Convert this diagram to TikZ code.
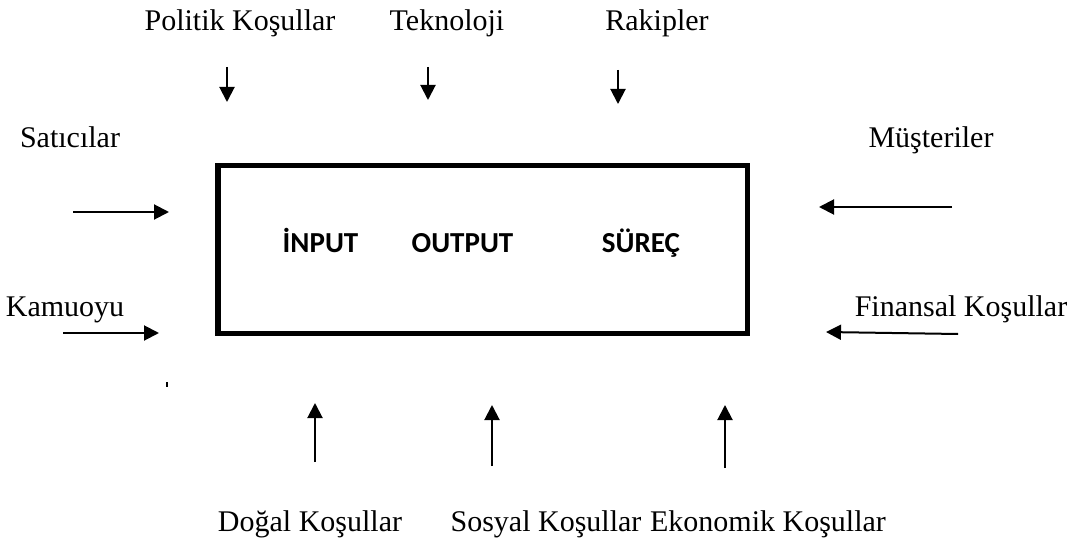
\documentclass[tikz,border=0pt]{standalone}
\usepackage{fontspec}
\setmainfont{Liberation Serif}
\newfontfamily\boxfont{Carlito}
\usetikzlibrary{arrows.meta,positioning}

\tikzset{
  envtext/.style={font=\fontsize{15}{18}\selectfont, inner sep=0pt, anchor=base},
  firmtext/.style={font=\boxfont\bfseries\fontsize{14.5}{17}\selectfont, inner sep=0pt, anchor=base},
  flow/.style={line width=1pt, -{Triangle[length=7.5pt,width=7.5pt]}}
}

\begin{document}
\begin{tikzpicture}[x=0.5pt, y=-0.5pt]
  \useasboundingbox (0,0) rectangle (1087,540);

  % the firm
  \node[draw, line width=2.75pt, inner sep=0pt,
        minimum width=264.75pt, minimum height=83.75pt] (firm) at (482.5,249.5) {};

  \node[firmtext] (input)  at (320.5,252) {İNPUT};
  \node[firmtext] (output) at (462.5,252) {OUTPUT};
  \node[firmtext] (surec)  at (641,252)   {SÜREÇ};

  % surrounding conditions
  \node[envtext] (politik)  at (240,31)  {Politik Koşullar};
  \node[envtext] (teknoloji) at (447,31) {Teknoloji};
  \node[envtext] (rakipler) at (657,31)  {Rakipler};
  \node[envtext] (saticilar) at (70,148) {Satıcılar};
  \node[envtext] (musteriler) at (931,148) {Müşteriler};
  \node[envtext] (kamuoyu)  at (65,316)  {Kamuoyu};
  \node[envtext] (finansal) at (961,316) {Finansal Koşullar};
  \node[envtext] (dogal)    at (310,531) {Doğal Koşullar};
  \node[envtext] (sosyal)   at (546,531) {Sosyal Koşullar};
  \node[envtext] (ekonomik) at (768,531) {Ekonomik Koşullar};

  % arrows towards the firm
  \foreach \n/\xa/\ya/\xb/\yb in {pol/227/67/227/102, tek/428/67/428/100,
      rak/618/70/618/104, sat/73/212/169/212, kam/63/333/159/333,
      mus/952/207/819/207, fin/958/334/826/332, dog/315/462/315/403,
      sos/492/466/492/405, eko/725/468/725/405} {
    \coordinate (\n-s) at (\xa,\ya);
    \coordinate (\n-e) at (\xb,\yb);
    \draw[flow] (\n-s) -- (\n-e);
  }

  \draw[line width=1pt] (167,382) -- (167,387);
\end{tikzpicture}
\end{document}
